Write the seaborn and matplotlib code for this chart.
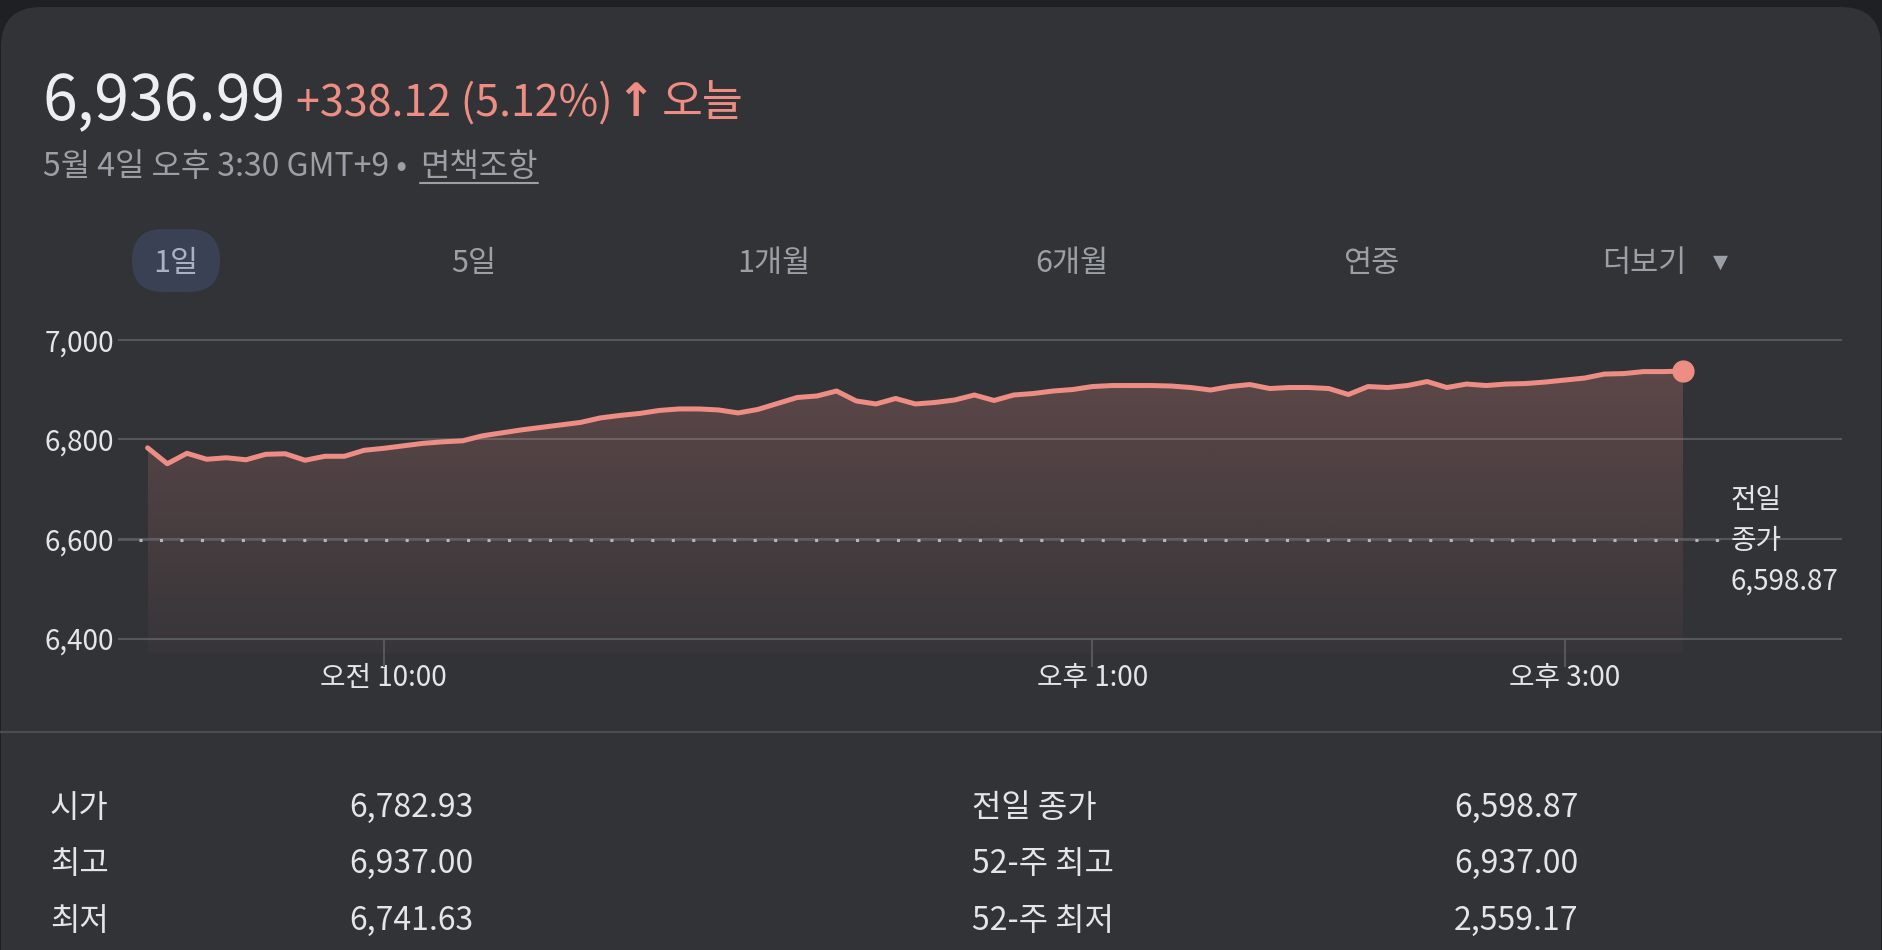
import numpy as np
import pandas as pd
import matplotlib
matplotlib.use("Agg")
import matplotlib.pyplot as plt
import seaborn as sns
from matplotlib.patches import FancyBboxPatch
from matplotlib.lines import Line2D

# ---------------- data ----------------
times = pd.date_range("2025-05-04 09:00", "2025-05-04 15:30", freq="5min")
values = [6782.93, 6751, 6772, 6760, 6763, 6759, 6770, 6771, 6758, 6766,
          6766, 6778, 6782, 6787, 6792, 6795, 6797, 6807, 6813, 6819,
          6824, 6829, 6834, 6843, 6848, 6852, 6858, 6861, 6861, 6859,
          6853, 6860, 6872, 6884, 6887, 6897, 6877, 6871, 6882, 6871,
          6874, 6879, 6889, 6878, 6889, 6892, 6897, 6900, 6906, 6908,
          6908, 6908, 6907, 6904, 6899, 6906, 6910, 6902, 6904, 6904,
          6902, 6890, 6906, 6904, 6908, 6916, 6904, 6911, 6908, 6911,
          6912, 6915, 6919, 6923, 6931, 6932, 6936, 6936, 6936.99]
prev_close = 6598.87
last_price_text = "6,936.99"
change_text = "+338.12 (5.12%)"
today_text = "오늘"
subtitle_text = "5월 4일 오후 3:30 GMT+9 • "
disclaimer_text = "면책조항"
y_ticks = [6400, 6600, 6800, 7000]
x_tick_minutes = [60, 240, 360]
x_tick_labels = ["오전 10:00", "오후 1:00", "오후 3:00"]
range_buttons = ["1일", "5일", "1개월", "6개월", "연중", "더보기"]
stat_labels_left = ["시가", "최고", "최저"]
stat_values_left = ["6,782.93", "6,937.00", "6,741.63"]
stat_labels_right = ["전일 종가", "52-주 최고", "52-주 최저"]
stat_values_right = ["6,598.87", "6,937.00", "2,559.17"]

minutes = ((times - times[0]).total_seconds() / 60.0).to_numpy()
df = pd.DataFrame({"minute": minutes, "price": values})

# ---------------- style ----------------
sns.set_theme(style="dark")
plt.rcParams["font.family"] = ["Noto Sans CJK KR", "DejaVu Sans"]
plt.rcParams["axes.unicode_minus"] = False

OUTER = "#1f2023"
CARD = "#323337"
GRID = "#55575b"
TXT = "#e3e5e8"
GRAY = "#9aa0a6"
RED = "#ee8d84"

W, H = 1882, 950
fig = plt.figure(figsize=(W / 100, H / 100), dpi=100)
fig.patch.set_facecolor(OUTER)


def fx(x):
    return x / W


def fy(y):
    return 1 - y / H


# card background with rounded top corners
card = FancyBboxPatch((1, -60), W - 2, H - 7 + 60, boxstyle="round,pad=0,rounding_size=40",
                      transform=None, facecolor=CARD, edgecolor="none", zorder=-5)
fig.patches.append(card)

# ---------------- header ----------------
fig.text(fx(43), fy(120), last_price_text, fontsize=45, color="#eceef1", va="baseline", ha="left")
fig.text(fx(296), fy(116), change_text, fontsize=31, color=RED, va="baseline", ha="left")
fig.text(fx(635), fy(116), "↑", fontsize=33, color=RED, va="baseline", ha="center",
         family="DejaVu Sans", fontweight="bold")
fig.text(fx(662), fy(116), today_text, fontsize=32, color=RED, va="baseline", ha="left")

fig.text(fx(43), fy(176), subtitle_text, fontsize=23, color=GRAY, va="baseline", ha="left")
disc = fig.text(fx(420), fy(176), disclaimer_text, fontsize=23, color=GRAY, va="baseline", ha="left")

# ---------------- range buttons ----------------
pill = FancyBboxPatch((132, H - 292), 88, 63, boxstyle="round,pad=0,rounding_size=31",
                      transform=None, facecolor="#3a4155", edgecolor="none", zorder=-1)
fig.patches.append(pill)
btn_x = [176, 474, 774, 1072, 1371, 1644]
for i, (lab, bx) in enumerate(zip(range_buttons, btn_x)):
    fig.text(fx(bx), fy(264), lab, fontsize=22, color="#a9b1c2" if i == 0 else GRAY,
             ha="center", va="center", zorder=2)
fig.text(fx(1720), fy(262), "▼", fontsize=14, color=GRAY, ha="center", va="center",
         family="DejaVu Sans")

# ---------------- chart ----------------
ylo, yhi = 6370, 7030
px_per_unit = (638.6 - 339.7) / 600.0
top_px = 339.7 - (yhi - 7000) * px_per_unit
bot_px = 339.7 + (7000 - ylo) * px_per_unit
ax_left, ax_right = 118, 1842
ax = fig.add_axes([fx(ax_left), fy(bot_px), (ax_right - ax_left) / W, (bot_px - top_px) / H])
ax.set_facecolor("none")
for s in ax.spines.values():
    s.set_visible(False)

px_per_min = 3.937
x0_px = 147.6
xlim = ((ax_left - x0_px) / px_per_min, (ax_right - x0_px) / px_per_min)

# gradient fill under the line
poly = ax.fill_between(df["minute"], df["price"], ylo, color="none", lw=0)
grad = np.zeros((256, 1, 4))
rgb = matplotlib.colors.to_rgb(RED)
grad[..., 0], grad[..., 1], grad[..., 2] = rgb
grad[:, 0, 3] = np.linspace(0.03, 0.25, 256)
im = ax.imshow(grad, extent=[df["minute"].min(), df["minute"].max(), ylo, 7000],
               origin="lower", aspect="auto", zorder=1, interpolation="bilinear")
im.set_clip_path(poly.get_paths()[0], transform=ax.transData)

sns.lineplot(data=df, x="minute", y="price", ax=ax, color=RED, lw=3.6, zorder=4)
ax.plot(df["minute"].iloc[-1], df["price"].iloc[-1], "o", color=RED, ms=15, zorder=5,
        clip_on=False)

# previous close reference line
ax.axhline(prev_close, xmin=0, xmax=0.929, color="#5a5c60", lw=1.2, zorder=2)
ax.axhline(prev_close, xmin=0.012, xmax=0.929, color="#b4b7bb", lw=2.2,
           dashes=(1, 5.7), zorder=3)

ax.set_xlim(*xlim)
ax.set_ylim(ylo, yhi)
ax.set_yticks(y_ticks)
ax.set_yticklabels([f"{v:,}" for v in y_ticks])
ax.set_xticks(x_tick_minutes)
ax.set_xticklabels(x_tick_labels)
ax.grid(axis="y", color=GRID, lw=1.5, zorder=0)
ax.grid(axis="x", visible=False)
ax.tick_params(axis="y", length=0, pad=3, labelsize=20, labelcolor=TXT)
ax.tick_params(axis="x", length=0, pad=7, labelsize=20, labelcolor=TXT)
ax.vlines(x_tick_minutes, ylo - 28, y_ticks[0], color=GRID, lw=1.5, clip_on=False, zorder=2)
ax.set_xlabel("")
ax.set_ylabel("")

fig.text(fx(1731), fy(541), "전일\n종가\n6,598.87", fontsize=20, color=TXT,
         ha="left", va="center", linespacing=1.48)

# separator
fig.add_artist(Line2D([0, 1], [fy(732), fy(732)], color="#4a4c50", lw=1.6,
                      transform=fig.transFigure))

# ---------------- stats table ----------------
row_y = [808, 864, 921]
for lab, val, lab2, val2, ry in zip(stat_labels_left, stat_values_left,
                                    stat_labels_right, stat_values_right, row_y):
    fig.text(fx(50), fy(ry), lab, fontsize=23, color=TXT, va="center", ha="left")
    fig.text(fx(349), fy(ry), val, fontsize=23, color=TXT, va="center", ha="left", fontweight="medium")
    fig.text(fx(972), fy(ry), lab2, fontsize=23, color=TXT, va="center", ha="left")
    fig.text(fx(1454), fy(ry), val2, fontsize=23, color=TXT, va="center", ha="left", fontweight="medium")

# underline for disclaimer link
fig.canvas.draw()
bb = disc.get_window_extent(fig.canvas.get_renderer())
fig.add_artist(Line2D([bb.x0, bb.x1], [H - 183, H - 183], color=GRAY, lw=1.5, transform=None))

fig.savefig("out.png", dpi=100, facecolor=fig.get_facecolor())
